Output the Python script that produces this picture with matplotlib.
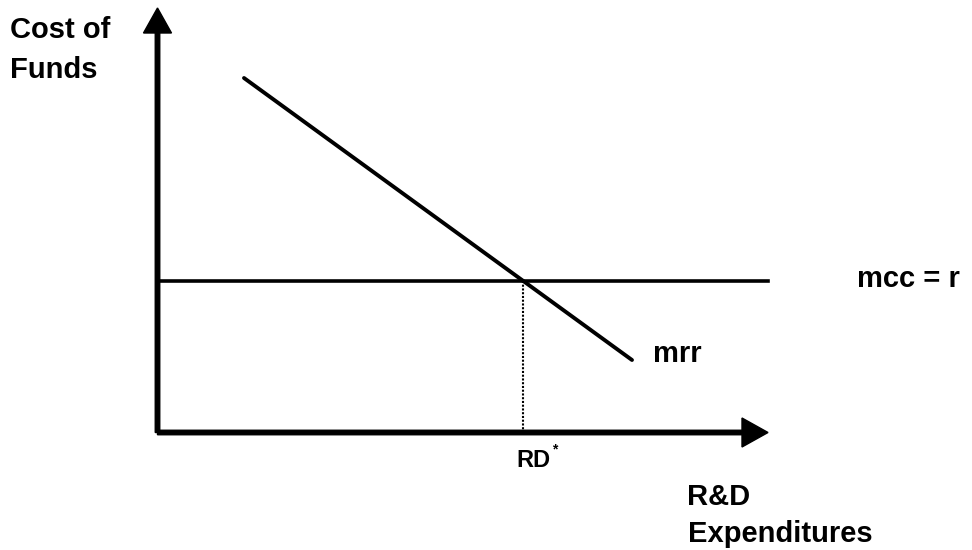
import matplotlib
matplotlib.use('Agg')
import matplotlib.pyplot as plt

# diagram data (units: pixels from the origin of the axes)
mcc_level = 151.5
mrr_x = [86.5, 474.5]
mrr_y = [354.5, 72.5]
x_axis_end = 610.5
y_axis_end = 424.5

# where mrr crosses mcc = r
slope = (mrr_y[1] - mrr_y[0]) / (mrr_x[1] - mrr_x[0])
rd_star = mrr_x[0] + (mcc_level - mrr_y[0]) / slope

fig = plt.figure(figsize=(9.72, 5.5), dpi=100)
ax = fig.add_axes([0, 0, 1, 1])
ax.set_xlim(-157.5, 814.5)
ax.set_ylim(-117.5, 432.5)
ax.axis('off')

# axes with arrows
ax.arrow(0, 0, x_axis_end, 0, width=4.5, head_width=29, head_length=26,
         length_includes_head=True, fc='black', ec='black')
ax.arrow(0, 0, 0, y_axis_end, width=4.5, head_width=28, head_length=25,
         length_includes_head=True, fc='black', ec='black')

# mcc = r and mrr
ax.plot([0, x_axis_end], [mcc_level, mcc_level], color='black', lw=2.6)
ax.plot(mrr_x, mrr_y, color='black', lw=2.8, solid_capstyle='round')
ax.plot([rd_star, rd_star], [0, mcc_level], color='black', lw=1.5, ls=(0, (1, 0.8)))

fnt = dict(family='Liberation Sans', weight='bold', va='baseline', ha='left')
ax.text(-147.5, 394.5, 'Cost of', fontsize=21, **fnt)
ax.text(-147.5, 354.5, 'Funds', fontsize=21, **fnt)
ax.text(699.5, 145.5, 'mcc = r', fontsize=21, **fnt)
ax.text(495.5, 70.5, 'mrr', fontsize=21, **fnt)
ax.text(rd_star - 7, -34.5, 'RD', fontsize=17, **fnt)
ax.text(rd_star + 29, -20.5, '*', fontsize=10, **fnt)
ax.text(529.5, -72.5, 'R&D', fontsize=21, **fnt)
ax.text(530.5, -109.5, 'Expenditures', fontsize=21, **fnt)

fig.savefig('out.png', dpi=100)
